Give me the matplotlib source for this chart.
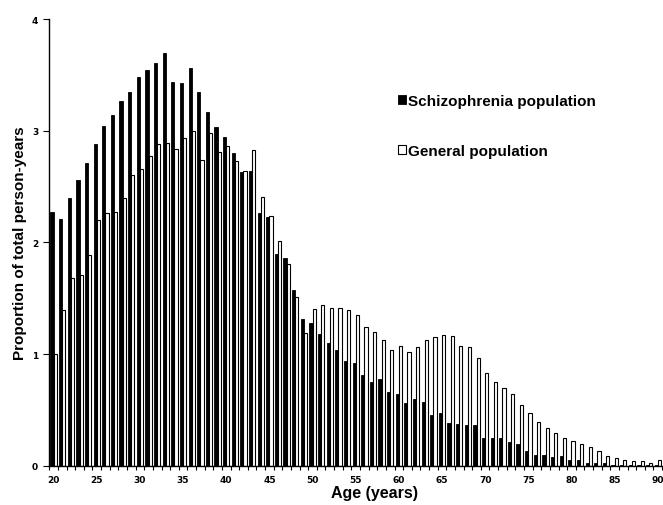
import numpy as np
import matplotlib
matplotlib.use("Agg")
from matplotlib import pyplot as plt

ages = np.arange(20, 91)

schizophrenia = [2.27, 2.21, 2.40, 2.56, 2.71, 2.88, 3.04, 3.14, 3.27, 3.35,
                 3.48, 3.54, 3.61, 3.70, 3.44, 3.43, 3.56, 3.35, 3.17, 3.03,
                 2.94, 2.80, 2.63, 2.64, 2.26, 2.23, 1.90, 1.86, 1.57, 1.31,
                 1.28, 1.18, 1.10, 1.04, 0.94, 0.92, 0.81, 0.75, 0.78, 0.66,
                 0.64, 0.56, 0.60, 0.57, 0.45, 0.47, 0.38, 0.37, 0.36, 0.36,
                 0.25, 0.25, 0.25, 0.21, 0.19, 0.13, 0.10, 0.10, 0.075, 0.09,
                 0.055, 0.055, 0.025, 0.025, 0.02, 0.01, 0.006, 0.005, 0.004, 0.003,
                 0.002]

general = [1.00, 1.39, 1.68, 1.71, 1.89, 2.20, 2.26, 2.27, 2.40, 2.60,
           2.66, 2.77, 2.88, 2.89, 2.84, 2.93, 3.00, 2.74, 2.98, 2.81,
           2.86, 2.73, 2.64, 2.83, 2.41, 2.24, 2.01, 1.81, 1.51, 1.19,
           1.40, 1.44, 1.41, 1.41, 1.39, 1.35, 1.24, 1.20, 1.13, 1.04,
           1.07, 1.02, 1.06, 1.13, 1.15, 1.17, 1.16, 1.07, 1.06, 0.96,
           0.83, 0.75, 0.70, 0.64, 0.54, 0.47, 0.39, 0.34, 0.29, 0.25,
           0.22, 0.19, 0.17, 0.13, 0.09, 0.066, 0.054, 0.045, 0.04, 0.025,
           0.05]

label_font = "Liberation Sans"

fig = plt.figure(figsize=(6.63, 5.06), dpi=100)
ax = fig.add_axes([49.3 / 663, 1 - 466.7 / 506, (662.1 - 49.3) / 663, (466.7 - 20) / 506])

w = 0.37
b1 = ax.bar(ages - w / 2, schizophrenia, width=w, color="black", edgecolor="black",
            linewidth=0.6, label="Schizophrenia population")
b2 = ax.bar(ages + w / 2, general, width=w, color="white", edgecolor="black",
            linewidth=0.8, label="General population")

ax.set_xlim(19.5, 90.5)
ax.set_ylim(0, 4)
ax.spines["top"].set_visible(False)
ax.spines["right"].set_visible(False)
ax.spines["left"].set_linewidth(1.0)
ax.spines["bottom"].set_linewidth(1.0)

ax.set_xticks(np.arange(20, 91, 5))
ax.set_xticks(np.arange(19.5, 91, 1), minor=True)
ax.tick_params(axis="x", which="major", length=0, pad=7)
ax.tick_params(axis="x", which="minor", length=3, width=0.8, direction="out")
ax.set_yticks([0, 1, 2, 3, 4])
ax.tick_params(axis="y", length=4, width=0.8, direction="out", pad=4)
for t in ax.get_xticklabels() + ax.get_yticklabels():
    t.set_fontfamily("DejaVu Sans")
    t.set_fontweight("bold")
    t.set_fontsize(6.5)

ax.set_ylabel("Proportion of total person-years", fontfamily=label_font,
              fontweight="bold", fontsize=11)
ax.yaxis.set_label_coords(-0.037, 0.5)
ax.set_xlabel("Age (years)", fontfamily=label_font, fontweight="bold", fontsize=11.5)
ax.xaxis.set_label_coords(0.53, -0.043)

leg = ax.legend(handles=[b1, b2], loc="upper left", bbox_to_anchor=(390 / 663, 1 - 87 / 506),
                bbox_transform=fig.transFigure, frameon=False,
                prop={"family": label_font, "weight": "bold", "size": 11},
                handlelength=0.55, handleheight=0.55, handletextpad=0.15,
                labelspacing=2.35, borderpad=0)

fig.savefig("out.png", dpi=100)
